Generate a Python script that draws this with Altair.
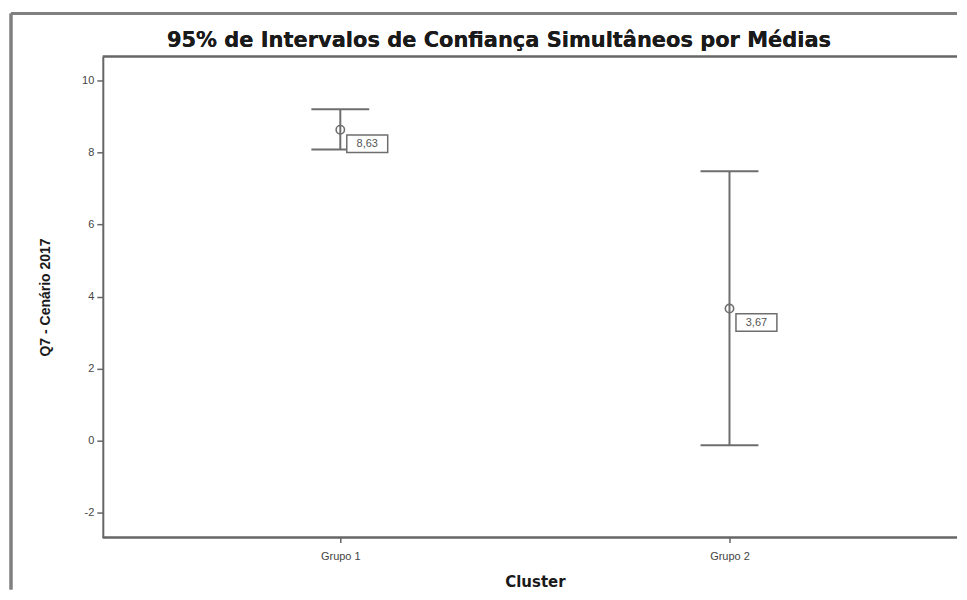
import altair as alt
import pandas as pd

# ---- data ----
categories = ["Grupo 1", "Grupo 2"]
means = [8.63, 3.67]
lower = [8.08, -0.12]
upper = [9.20, 7.48]
y_ticks = [-2, 0, 2, 4, 6, 8, 10]

TITLE = "95% de Intervalos de Confiança Simultâneos por Médias"
Y_TITLE = "Q7 - Cenário 2017"
X_TITLE = "Cluster"

df = pd.DataFrame({"cluster": categories, "mean": means, "lower": lower, "upper": upper})
df["label"] = [f"{m:.2f}".replace(".", ",") for m in means]

W, H = 856, 482
LINE = "#6e6e6e"
AX = "#666666"
FRAME = "#808080"
BOX_PATH = "M-1,-0.43H1V0.43H-1Z"

x_enc = alt.X("cluster:N", sort=categories, title=X_TITLE,
              scale=alt.Scale(type="point", range=[238, 628], padding=0))
y_scale = alt.Scale(domain=[-2.68, 10.66], nice=False, zero=False)
y_axis = alt.Axis(values=y_ticks, labelExpr="replace(datum.label, '\u2212', '-')")

def Y(field):
    return alt.Y(field, title=Y_TITLE, scale=y_scale, axis=y_axis)

base = alt.Chart(df)

whisker = base.mark_rule(color=LINE, strokeWidth=2).encode(x=x_enc, y=Y("lower:Q"), y2="upper:Q")
cap_lo = base.mark_tick(size=58, thickness=2, color=LINE, opacity=1).encode(x=x_enc, y=Y("lower:Q"))
cap_hi = base.mark_tick(size=58, thickness=2, color=LINE, opacity=1).encode(x=x_enc, y=Y("upper:Q"))
dots = base.mark_point(shape="circle", size=70, filled=False, stroke=LINE, strokeWidth=1.6,
                       opacity=1).encode(x=x_enc, y=Y("mean:Q"))
boxes = base.mark_point(shape=BOX_PATH, size=41 * 41, filled=True, fill="white", stroke=LINE,
                        strokeWidth=1.5, opacity=1, xOffset=27, yOffset=14).encode(x=x_enc, y=Y("mean:Q"))
labels = base.mark_text(dx=27, dy=14, fontSize=11, font="Liberation Sans", color="#555555",
                        align="center", baseline="middle").encode(x=x_enc, y=Y("mean:Q"), text="label:N")

frame_left = base.mark_rule(color=FRAME, strokeWidth=3).encode(
    x=alt.value(-92), y=alt.value(-43), y2=alt.value(H + 52))
frame_top = base.mark_rule(color=FRAME, strokeWidth=3).encode(
    x=alt.value(-92), x2=alt.value(W), y=alt.value(-43))
top_line = base.mark_rule(color=AX, strokeWidth=2).encode(
    x=alt.value(0), x2=alt.value(W), y=alt.value(0))
bottom_line = base.mark_rule(color=AX, strokeWidth=2).encode(
    x=alt.value(0), x2=alt.value(W), y=alt.value(H))
title_text = base.mark_text(font="DejaVu Sans", fontSize=21, fontWeight="bold", color="#1a1a1a",
                            align="center", baseline="middle").encode(
    x=alt.value(397), y=alt.value(-16), text=alt.value(TITLE))

chart = alt.layer(
    frame_left, frame_top, top_line, bottom_line,
    whisker, cap_lo, cap_hi, dots, boxes, labels, title_text
).properties(
    width=W, height=H,
    padding={"left": 1, "top": 3, "right": 0, "bottom": 0},
).configure_view(
    stroke=None
).configure_axisY(
    grid=False, domain=True, domainColor=AX, domainWidth=2,
    tickColor=AX, tickWidth=1.5, tickSize=6, labelFont="Liberation Sans", labelFontSize=11,
    labelColor="#444444", labelPadding=3,
    titleFont="Liberation Sans", titleFontSize=14, titleFontWeight="bold",
    titleColor="#1a1a1a", titlePadding=29
).configure_axisX(
    grid=False, domain=False, tickColor=AX, tickWidth=1.5, tickSize=5, labelAngle=0,
    labelFont="Liberation Sans", labelFontSize=11, labelColor="#444444", labelPadding=8,
    titleFont="DejaVu Sans", titleFontSize=15, titleFontWeight="bold", titleColor="#1a1a1a",
    titlePadding=13
)

chart.save("out.html", embed_options={"renderer": "svg", "actions": False})
